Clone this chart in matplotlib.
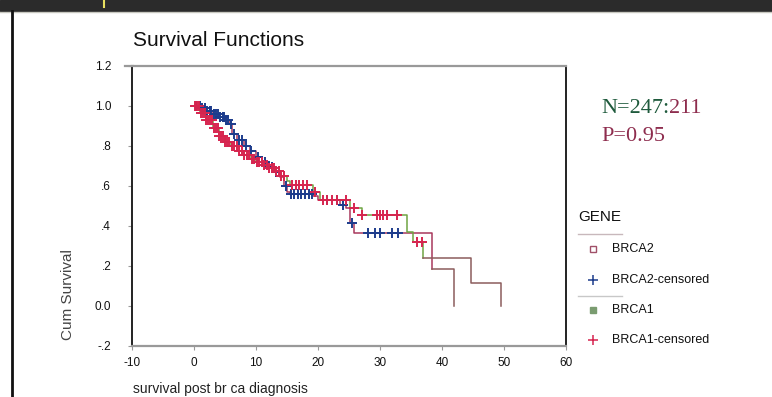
import numpy as np
import matplotlib
matplotlib.use("Agg")
import matplotlib.pyplot as plt
from matplotlib.patches import Rectangle

plt.rcParams['font.family'] = ['Liberation Sans', 'DejaVu Sans']
plt.rcParams['axes.unicode_minus'] = False

# ---- Kaplan-Meier step curves (time in years, cumulative survival) ----
brca2_t = [0, 1.0, 2.0, 3.0, 4.0, 5.0, 5.8, 6.2, 7.0, 8.0, 9.0, 10.0, 11.0, 12.0,
           13.0, 13.8, 14.5, 15.0, 15.5, 19.2, 20.0, 23.5, 24.5, 25.2, 25.8, 38.4, 41.9]
brca2_s = [1.0, 0.99, 0.975, 0.96, 0.945, 0.93, 0.91, 0.86, 0.83, 0.80, 0.775, 0.745,
           0.72, 0.695, 0.67, 0.645, 0.60, 0.57, 0.56, 0.55, 0.53, 0.505, 0.49, 0.415,
           0.365, 0.185, 0.0]
brca2_cens = [0.4, 0.9, 1.3, 1.7, 2.1, 2.5, 2.8, 3.2, 3.5, 3.9, 4.2, 4.6, 4.9, 5.2, 5.5,
              6.0, 6.5, 7.3, 7.8, 8.4, 9.2, 10.4, 11.5, 12.5, 13.3, 14.8, 15.6, 16.2,
              16.7, 17.3, 17.9, 18.5, 19.0, 21.5, 23.0, 24.0, 25.5, 28.1, 29.2, 30.0,
              32.0, 32.9]

brca1_t = [0, 1.0, 2.0, 3.0, 4.0, 5.0, 6.0, 7.0, 8.0, 9.0, 10.0, 11.0, 12.0, 13.0, 14.0,
           15.0, 15.5, 19.2, 20.3, 25.2, 27.1, 34.4, 35.3, 36.9, 44.6, 49.5]
brca1_s = [1.0, 0.965, 0.93, 0.89, 0.85, 0.82, 0.80, 0.775, 0.755, 0.735, 0.72, 0.705,
           0.69, 0.675, 0.65, 0.625, 0.605, 0.57, 0.53, 0.49, 0.455, 0.37, 0.32, 0.24,
           0.117, 0.0]
brca1_cens = [0.2, 0.5, 0.8, 1.1, 1.4, 1.7, 2.0, 2.3, 2.6, 2.9, 3.2, 3.5, 3.8, 4.1, 4.4,
              4.7, 5.0, 5.3, 5.7, 6.1, 6.5, 6.9, 7.3, 7.7, 8.1, 8.5, 8.9, 9.3, 9.7, 10.1,
              10.5, 10.9, 11.3, 11.7, 12.1, 12.5, 12.9, 13.3, 13.7, 14.1, 14.5, 15.8,
              16.5, 17.0, 17.5, 18.2, 19.5, 20.8, 21.5, 22.2, 23.0, 24.5, 25.8, 27.1,
              29.5, 30.0, 30.5, 31.1, 32.7, 36.0, 36.8]

x_ticks = [-10, 0, 10, 20, 30, 40, 50, 60]
y_ticks = [-0.2, 0.0, 0.2, 0.4, 0.6, 0.8, 1.0, 1.2]
y_tick_labels = ['-.2', '0.0', '.2', '.4', '.6', '.8', '1.0', '1.2']
legend_labels = ['BRCA2', 'BRCA2-censored', 'BRCA1', 'BRCA1-censored']

C_B2_LINE = '#a8385c'
C_B2_CENS = '#1d3c8c'
C_B1_LINE = '#6fa443'
C_B1_CENS = '#d6254f'
C_TAIL = '#8c5c5c'


def step_at(t, times, surv):
    idx = np.searchsorted(np.asarray(times), np.asarray(t), side='right') - 1
    return np.asarray(surv)[idx]


W, H = 772, 397
fig = plt.figure(figsize=(W / 100, H / 100), dpi=100)

# page decoration (pixel coordinates)
deco = fig.add_axes([0, 0, 1, 1])
deco.set_xlim(0, W)
deco.set_ylim(H, 0)
deco.axis('off')
deco.add_patch(Rectangle((0, 0), W, 11, color='#2b2b2b', zorder=1))
deco.plot([0, W], [11.5, 11.5], color='#c8c8c0', lw=1.0)
deco.plot([104, 104], [0, 7], color='#e8e060', lw=1.5)
deco.plot([12, 12], [11, H], color='#111111', lw=2.0)
deco.plot([125, 133], [66, 66], color='#999999', lw=1.6)

# main plot area
ax = fig.add_axes([132 / W, (H - 346) / H, (566 - 132) / W, (346 - 66) / H])
ax.set_xlim(-10, 60)
ax.set_ylim(-0.2, 1.2)
ax.set_xticks(x_ticks)
ax.set_yticks(y_ticks)
ax.set_yticklabels(y_tick_labels)
ax.tick_params(axis='y', labelsize=8.5, length=3, width=0.8, color='#999999',
               labelcolor='#111111', pad=12)
ax.tick_params(axis='x', labelsize=8.5, length=3, width=0.8, color='#999999',
               labelcolor='#111111', pad=5)
for side, col, lw in [('left', '#222222', 1.4), ('right', '#222222', 1.4),
                      ('top', '#999999', 1.6), ('bottom', '#999999', 1.6)]:
    ax.spines[side].set_color(col)
    ax.spines[side].set_linewidth(lw)

# survival steps
t2 = np.asarray(brca2_t); s2 = np.asarray(brca2_s)
t1 = np.asarray(brca1_t); s1 = np.asarray(brca1_s)
m2 = t2 <= 38.4
m1 = t1 <= 36.9
ax.step(t2[m2], s2[m2], where='post', color=C_B2_LINE, lw=1.1, zorder=2)
ax.step(t2[t2 >= 38.4], s2[t2 >= 38.4], where='post', color=C_TAIL, lw=1.1, zorder=2)
ax.step(t1[m1], s1[m1], where='post', color=C_B1_LINE, lw=1.1, zorder=2)
tail1_t = np.concatenate([[t1[m1][-1]], t1[~m1]])
tail1_s = np.concatenate([[s1[m1][-1]], s1[~m1]])
ax.step(tail1_t, tail1_s, where='post', color=C_TAIL, lw=1.1, zorder=2)

# censored observations
ax.plot(brca2_cens, step_at(brca2_cens, brca2_t, brca2_s), linestyle='none', marker='+',
        ms=7, mew=1.4, color=C_B2_CENS, zorder=3)
ax.plot(brca1_cens, step_at(brca1_cens, brca1_t, brca1_s), linestyle='none', marker='+',
        ms=7, mew=1.4, color=C_B1_CENS, zorder=4)

# titles and axis labels
fig.text(133 / W, 1 - 40 / H, 'Survival Functions', fontsize=15, color='#111111',
         ha='left', va='center')
fig.text(68 / W, 1 - 295 / H, 'Cum Survival', fontsize=11, color='#444444',
         rotation=90, ha='center', va='center')
fig.text(133 / W, 1 - 396 / H, 'survival post br ca diagnosis', fontsize=10,
         color='#222222', ha='left', va='bottom')

# sample sizes and p-value
nt = fig.text(601 / W, 1 - 108 / H, 'N=247:', fontsize=16, family='Liberation Serif',
              color='#1e5a3c', ha='left', va='center')
fig.canvas.draw()
bb = nt.get_window_extent()
fig.text(bb.x1 / W, 1 - 108 / H, '211', fontsize=16, family='Liberation Serif',
         color='#8e2d4e', ha='left', va='center')
fig.text(601 / W, 1 - 137 / H, 'P=0.95', fontsize=16, family='Liberation Serif',
         color='#8e2d4e', ha='left', va='center')

# legend
deco.text(578, 217, 'GENE', fontsize=11, color='#111111', ha='left', va='center')
deco.plot([578, 622], [234, 234], color='#c8b8bc', lw=1.0)
deco.plot([578, 622], [296, 296], color='#c8c8c8', lw=1.0)
leg_y = [249, 280, 310, 340]
handles = [dict(marker='s', ms=4.5, mfc='white', mec='#a05068', mew=1.0),
           dict(marker='+', ms=7, mew=1.1, color=C_B2_CENS),
           dict(marker='s', ms=4.5, mfc='#7a9c70', mec='#7a9c70', mew=1.0),
           dict(marker='+', ms=7, mew=1.1, color=C_B1_CENS)]
for y, lab, st in zip(leg_y, legend_labels, handles):
    deco.plot([593], [y], linestyle='none', **st)
    deco.text(612, y, lab, fontsize=9, color='#111111', ha='left', va='center')

fig.savefig('out.png', dpi=100)
